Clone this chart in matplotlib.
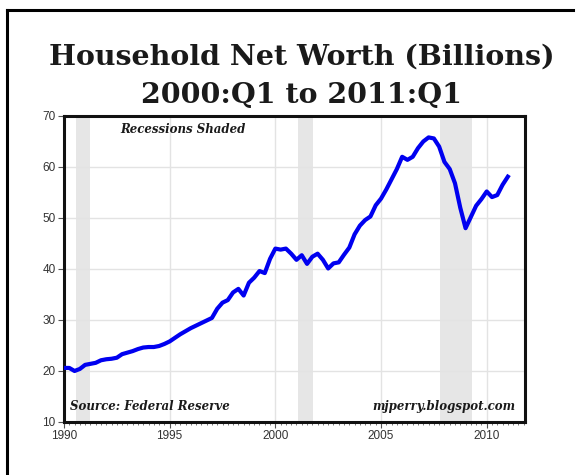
import matplotlib
matplotlib.use("Agg")
import matplotlib.pyplot as plt
from matplotlib.ticker import MultipleLocator
import numpy as np

# quarterly household net worth, 1990:Q1 .. 2011:Q1
net_worth = [
    20.6, 20.6, 20.0, 20.4,   # 1990
    21.2, 21.4, 21.6, 22.1,   # 1991
    22.3, 22.4, 22.6, 23.3,   # 1992
    23.6, 23.9, 24.3, 24.6,   # 1993
    24.7, 24.7, 24.9, 25.3,   # 1994
    25.8, 26.5, 27.2, 27.8,   # 1995
    28.4, 28.9, 29.4, 29.9,   # 1996
    30.4, 32.2, 33.4, 33.9,   # 1997
    35.4, 36.1, 34.8, 37.3,   # 1998
    38.3, 39.6, 39.2, 42.0,   # 1999
    44.0, 43.8, 44.0, 43.0,   # 2000
    41.8, 42.7, 41.0, 42.4,   # 2001
    43.0, 41.8, 40.1, 41.1,   # 2002
    41.3, 42.8, 44.2, 46.8,   # 2003
    48.5, 49.6, 50.3, 52.5,   # 2004
    53.8, 55.6, 57.6, 59.6,   # 2005
    62.0, 61.4, 62.0, 63.7,   # 2006
    65.0, 65.8, 65.6, 64.0,   # 2007
    61.0, 59.6, 56.8, 52.0,   # 2008
    48.0, 50.2, 52.4, 53.7,   # 2009
    55.2, 54.1, 54.5, 56.5,   # 2010
    58.1,                     # 2011
]
start_year = 1990
recessions = [(1990.55, 1991.25), (2001.05, 2001.8), (2007.8, 2009.3)]
x_labels = [1990, 1995, 2000, 2005, 2010]
y_ticks = [10, 20, 30, 40, 50, 60, 70]

quarters = start_year + np.arange(len(net_worth)) / 4.0

fig = plt.figure(figsize=(5.79, 4.75), dpi=100)
ax = fig.add_axes([0.1105, 0.1116, 0.7958, 0.6442])

# outer frame of the picture (left + top only)
fig.add_artist(plt.Line2D([0.012, 0.012], [0.0, 0.979], color="black", lw=2.2, transform=fig.transFigure))
fig.add_artist(plt.Line2D([0.012, 0.99], [0.979, 0.979], color="black", lw=2.2, transform=fig.transFigure))

for a, b in recessions:
    ax.axvspan(a, b, color="#e6e6e6", lw=0, zorder=0)

ax.plot(quarters, net_worth, color="#0000f0", lw=3.0, solid_joinstyle="round", zorder=3)

ax.set_xlim(1990, 2011.8)
ax.set_ylim(10, 70)
ax.set_xticks(x_labels)
ax.xaxis.set_minor_locator(MultipleLocator(0.25))
ax.set_yticks(y_ticks)
ax.grid(True, which="major", color="#e3e3e3", lw=1, zorder=1)
ax.set_axisbelow(True)

for s in ax.spines.values():
    s.set_linewidth(2.2)
    s.set_color("#111111")

ax.tick_params(axis="both", which="major", direction="out", length=4, width=0.8,
               colors="#555555", labelcolor="#333333", labelsize=8.5, pad=2)
ax.tick_params(axis="x", which="minor", direction="out", length=2.5, width=0.7, colors="#777777")
for lab in ax.get_xticklabels() + ax.get_yticklabels():
    lab.set_family("Liberation Sans")

fig.text(0.521, 0.879, "Household Net Worth (Billions)", ha="center", va="center",
         family="DejaVu Serif", weight="bold", fontsize=20.5, color="#1a1a1a")
fig.text(0.521, 0.800, "2000:Q1 to 2011:Q1", ha="center", va="center",
         family="DejaVu Serif", weight="bold", fontsize=20.5, color="#1a1a1a")

ax.text(0.122, 0.955, "Recessions Shaded", transform=ax.transAxes, ha="left", va="center",
        family="DejaVu Serif", weight="bold", style="italic", fontsize=8.5, color="#1a1a1a")
ax.text(0.013, 0.05, "Source: Federal Reserve", transform=ax.transAxes, ha="left", va="center",
        family="DejaVu Serif", weight="bold", style="italic", fontsize=8.5, color="#1a1a1a")
ax.text(0.98, 0.05, "mjperry.blogspot.com", transform=ax.transAxes, ha="right", va="center",
        family="DejaVu Serif", weight="bold", style="italic", fontsize=8.5, color="#1a1a1a")

fig.savefig("out.png", dpi=100)
